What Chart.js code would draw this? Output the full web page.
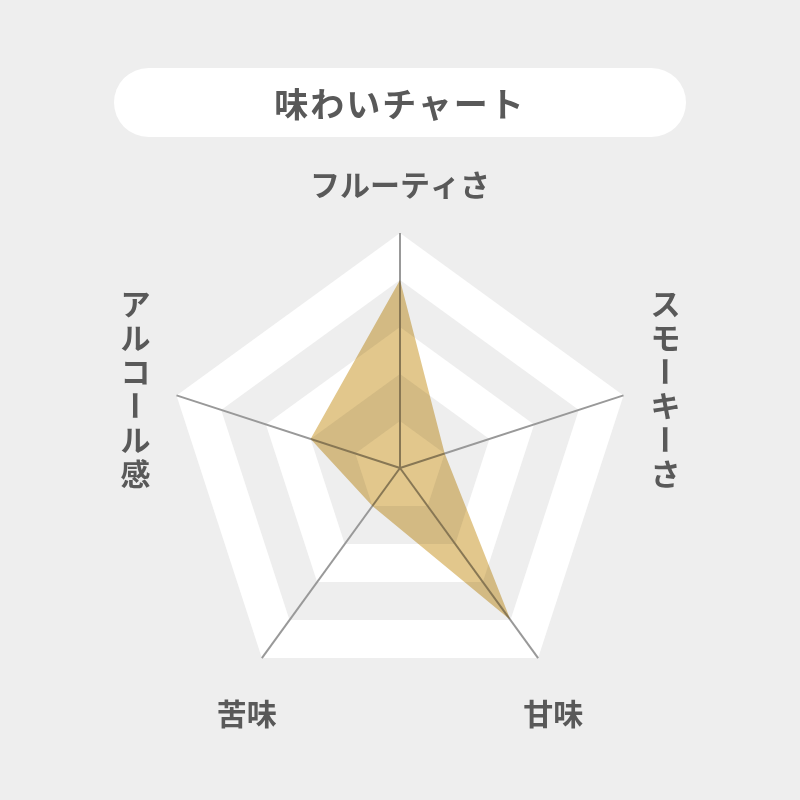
<!DOCTYPE html>
<html lang="ja">
<head>
<meta charset="utf-8">
<script src="https://cdn.jsdelivr.net/npm/chart.js@4.4.1/dist/chart.umd.min.js"></script>
<style>
	html, body { margin: 0; padding: 0; background: #eeeeee; }
	#wrap { position: relative; width: 800px; height: 800px; }
	#chart { position: absolute; left: 0; top: 0; }
	.title {
		position: absolute; left: 114px; top: 68px; width: 572px; height: 69px;
		border-radius: 35px; background: #ffffff; color: #595959;
		font: bold 34px "Noto Sans CJK JP", "Noto Sans", sans-serif; letter-spacing: 2px;
		display: flex; align-items: center; justify-content: center; z-index: 2;
	}
</style>
</head>
<body>
<div id="wrap">
	<div class="title">味わいチャート</div>
	<canvas id="chart" width="800" height="800"></canvas>
</div>
<script type="text/javascript">
	// axes, clockwise from the top
	let labels = ["フルーティさ", "スモーキーさ", "甘味", "苦味", "アルコール感"]
	let values = [4, 1, 4, 1, 2]
	// rings behind the chart, outer to inner
	let bandLevels = [5, 4, 3, 2, 1]

	let bandColors = ["#ffffff", "#eeeeee"]
	let labelOffsets = [[0, -48], [42, -7], [15, 55], [-15, 55], [-41, -7]]
	let labelVertical = [false, true, false, false, true]

	let bands = {
		id: "bands",
		beforeDraw: function(chart) {
			let ctx = chart.ctx
			let r = chart.scales.r
			ctx.save()
			ctx.fillStyle = "#eeeeee"
			ctx.fillRect(0, 0, chart.width, chart.height)
			bandLevels.forEach(function(level, k) {
				ctx.beginPath()
				for(let i=0; i<labels.length; i++) {
					let p = r.getPointPositionForValue(i, level)
					if(i === 0) ctx.moveTo(p.x, p.y)
					else ctx.lineTo(p.x, p.y)
				}
				ctx.closePath()
				ctx.fillStyle = bandColors[k % 2]
				ctx.fill()
			})
			ctx.restore()
		},
	}

	// the fill is laid over the rings and axis lines like ink (multiply)
	let multiply = {
		id: "multiply",
		beforeDatasetsDraw: function(chart) {
			chart.ctx.save()
			chart.ctx.globalCompositeOperation = "multiply"
		},
		afterDatasetsDraw: function(chart) {
			chart.ctx.restore()
		},
	}

	let axisLabels = {
		id: "axisLabels",
		afterDraw: function(chart) {
			let ctx = chart.ctx
			let r = chart.scales.r
			ctx.save()
			ctx.font = 'bold 30px "Noto Sans CJK JP", "Noto Sans", sans-serif'
			ctx.fillStyle = "#595959"
			ctx.textAlign = "center"
			ctx.textBaseline = "middle"
			labels.forEach(function(text, i) {
				let p = r.getPointPositionForValue(i, r.max)
				let cx = p.x + labelOffsets[i][0]
				let cy = p.y + labelOffsets[i][1]
				if(!labelVertical[i]) {
					ctx.fillText(text, cx, cy)
					return
				}
				let chars = Array.from(text)
				chars.forEach(function(ch, j) {
					let y = cy + (j - (chars.length - 1) / 2) * 34
					if(ch === "ー") {
						ctx.save()
						ctx.translate(cx, y)
						ctx.rotate(Math.PI / 2)
						ctx.fillText(ch, 0, 0)
						ctx.restore()
					} else {
						ctx.fillText(ch, cx, y)
					}
				})
			})
			ctx.restore()
		},
	}

	let chart = new Chart(document.querySelector("#chart"), {
		type: "radar",
		data: {
			labels: labels,
			datasets: [{
				label: "味わい",
				data: values,
				backgroundColor: "#e2c78c",
				borderWidth: 0,
				pointRadius: 0,
				fill: true,
			}],
		},
		options: {
			responsive: false,
			animation: false,
			layout: {
				padding: { left: 165, right: 165, top: 233, bottom: 97 },
			},
			plugins: {
				legend: { display: false },
				tooltip: { enabled: false },
			},
			scales: {
				r: {
					min: 0,
					max: 5,
					ticks: { display: false, stepSize: 1 },
					grid: { display: false },
					angleLines: { color: "#999999", lineWidth: 2 },
					pointLabels: { display: false },
				},
			},
		},
		plugins: [bands, multiply, axisLabels],
	})
</script>
</body>
</html>
